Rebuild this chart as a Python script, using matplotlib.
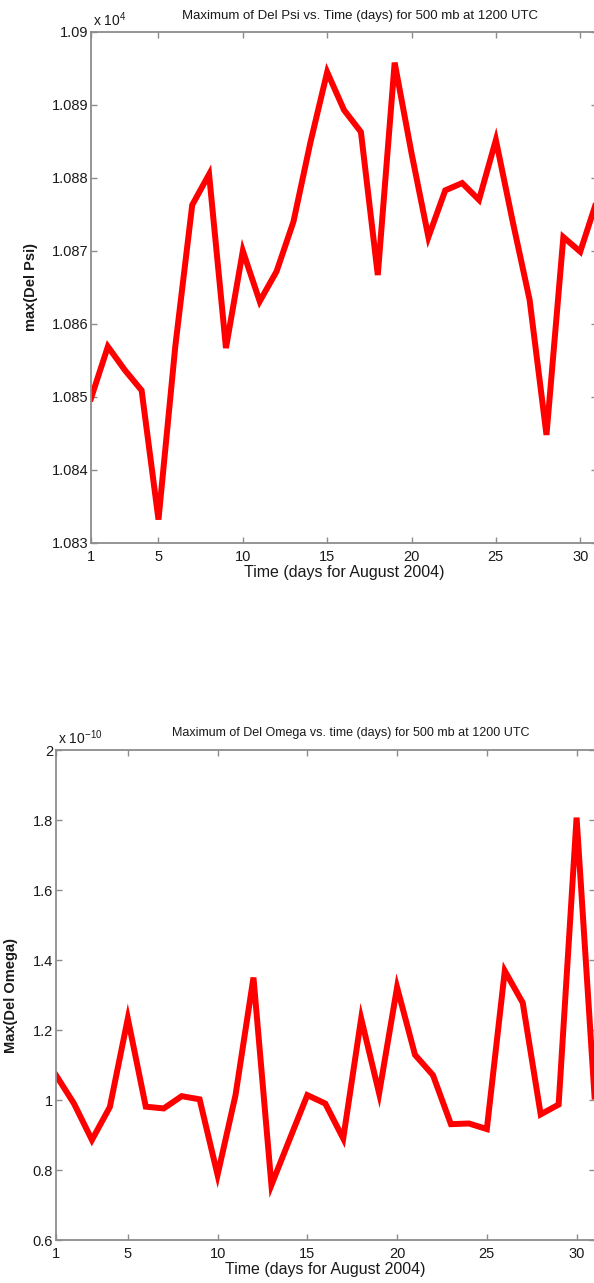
import matplotlib
matplotlib.use("Agg")
from matplotlib import pyplot as plt
import numpy as np

# days of August 2004
days = np.arange(1, 32)

# max(Del Psi), in units of 1e4
del_psi = [1.08498, 1.08569, 1.08537, 1.08509, 1.08332, 1.0857, 1.08763, 1.08805,
           1.08567, 1.08700, 1.08631, 1.08672, 1.08740, 1.08848, 1.08945, 1.08893,
           1.08863, 1.08667, 1.08958, 1.08834, 1.08719, 1.08783, 1.08793, 1.08770,
           1.08852, 1.08740, 1.08633, 1.08448, 1.08719, 1.08699, 1.08770]

# max(Del Omega), in units of 1e-10
del_omega = [1.071, 0.990, 0.886, 0.980, 1.233, 0.981, 0.976, 1.011, 1.002, 0.786,
             1.014, 1.350, 0.757, 0.886, 1.014, 0.990, 0.890, 1.233, 1.019, 1.322,
             1.129, 1.071, 0.931, 0.933, 0.917, 1.369, 1.278, 0.959, 0.987, 1.807,
             1.010]

xticks = [1, 5, 10, 15, 20, 25, 30]
psi_ticks = [1.083, 1.084, 1.085, 1.086, 1.087, 1.088, 1.089, 1.09]
psi_labels = ["1.083", "1.084", "1.085", "1.086", "1.087", "1.088", "1.089", "1.09"]
omega_ticks = [0.6, 0.8, 1.0, 1.2, 1.4, 1.6, 1.8, 2.0]
omega_labels = ["0.6", "0.8", "1", "1.2", "1.4", "1.6", "1.8", "2"]

plt.rcParams["font.family"] = ["Liberation Sans", "DejaVu Sans"]
plt.rcParams["mathtext.fontset"] = "custom"
plt.rcParams["mathtext.rm"] = "Liberation Sans"

fig = plt.figure(figsize=(5.94, 12.83), dpi=100)
ink = "#1a1a1a"


def style(ax):
    for s in ax.spines.values():
        s.set_color("#8c8c8c")
        s.set_linewidth(1.3)
    ax.tick_params(direction="in", length=4, width=1, color="#8c8c8c",
                   top=True, right=True, labelsize=10.5, labelcolor=ink)
    ax.tick_params(axis="x", pad=5)
    ax.tick_params(axis="y", pad=2)
    ax.set_xticks(xticks)


ax1 = fig.add_axes([0.1532, 0.5768, 0.852, 0.3983])
ax1.plot(days, del_psi, color="#ff0000", lw=4.3, solid_joinstyle="miter")
ax1.set_xlim(1, 31)
ax1.set_ylim(1.083, 1.09)
style(ax1)
ax1.set_yticks(psi_ticks)
ax1.set_yticklabels(psi_labels)
ax1.set_xlabel("Time (days for August 2004)", fontsize=11.5, color=ink, labelpad=1)
ax1.set_ylabel("max(Del Psi)", fontsize=10.5, fontweight="bold", color=ink, labelpad=10)
ax1.text(0.004, 1.006, r"x 10$^{\mathrm{4}}$", transform=ax1.transAxes, fontsize=10,
         color=ink, va="bottom", ha="left")
fig.text(360 / 594, 1 - 16 / 1283, "Maximum of Del Psi vs. Time (days) for 500 mb at 1200 UTC",
         ha="center", va="center", fontsize=9.5, color=ink)

ax2 = fig.add_axes([0.0943, 0.0335, 0.9066, 0.3819])
ax2.plot(days, del_omega, color="#ff0000", lw=4.3, solid_joinstyle="miter")
ax2.set_xlim(1, 31)
ax2.set_ylim(0.6, 2.0)
style(ax2)
ax2.set_yticks(omega_ticks)
ax2.set_yticklabels(omega_labels)
ax2.set_xlabel("Time (days for August 2004)", fontsize=11.5, color=ink, labelpad=1)
ax2.set_ylabel("Max(Del Omega)", fontsize=10.5, fontweight="bold", color=ink, labelpad=11)
ax2.text(0.004, 1.006, r"x 10$^{\mathrm{-10}}$", transform=ax2.transAxes, fontsize=10,
         color=ink, va="bottom", ha="left")
fig.text(351 / 594, 1 - 733 / 1283, "Maximum of Del Omega vs. time (days) for 500 mb at 1200 UTC",
         ha="center", va="center", fontsize=9, color=ink)

fig.savefig("out.png", dpi=100)
